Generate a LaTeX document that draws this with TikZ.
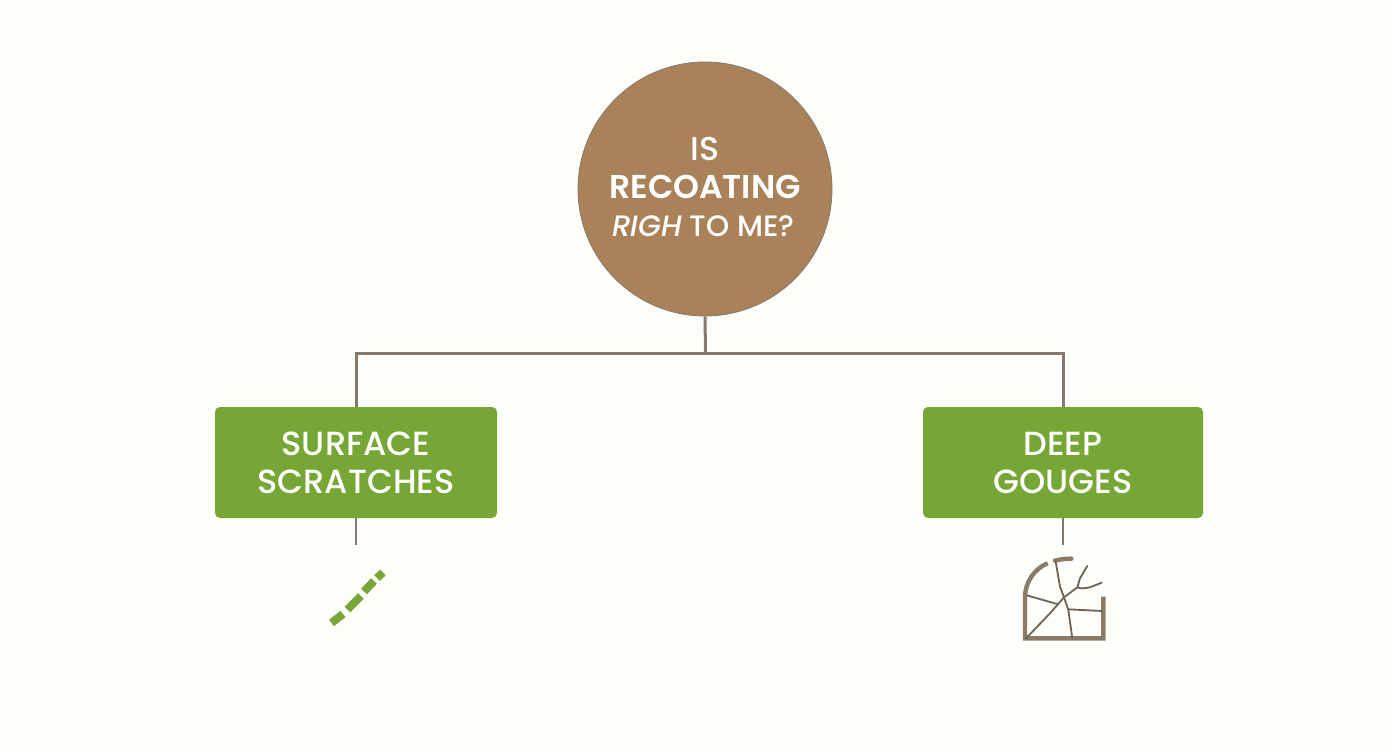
\documentclass[tikz,border=0pt]{standalone}
\usepackage{fontspec}
\setmainfont[BoldFont={Poppins SemiBold},ItalicFont={Poppins Medium Italic}]{Poppins Medium}
\definecolor{bgc}{HTML}{FDFDF9}
\definecolor{tan}{HTML}{A98259}
\definecolor{leaf}{HTML}{76A736}
\definecolor{wire}{HTML}{85796E}
\definecolor{icon}{HTML}{8A7A66}
\definecolor{crack}{HTML}{6E6355}
\tikzset{
  question/.style={circle,fill=tan,draw=wire,line width=0.8pt,minimum size=254pt,inner sep=0pt,text=white},
  choice/.style={rectangle,rounded corners=5pt,fill=leaf,minimum height=111pt,inner sep=0pt,text=white,align=center,font=\fontsize{33.5}{38}\selectfont},
  wirel/.style={draw=wire,line width=3pt},
  stub/.style={draw=wire,line width=2.6pt},
  scr/.style={draw=leaf,line width=8pt},
  ico/.style={draw=icon,line width=4.4pt},
  crk/.style={draw=crack,line width=1.8pt,line cap=round,line join=round},
}
\begin{document}
\begin{tikzpicture}[x=1pt,y=-1pt]
\useasboundingbox (0,0) rectangle (1392,752);
\fill[bgc] (0,0) rectangle (1392,752);
\node[question] (q) at (705,189) {};
\node[text=white,font=\fontsize{33}{34}\selectfont] (t1) at (705,149) {IS};
\node[text=white,font=\fontsize{33}{34}\selectfont\bfseries] (t2) at (705,187) {RECOATING};
\node[text=white,font=\fontsize{29.5}{34}\selectfont] (t3) at (703.5,226) {\textit{RIGH} TO ME?};
\node[choice,minimum width=282pt] (a) at (356,462.5) {SURFACE\\SCRATCHES};
\node[choice,minimum width=280pt] (b) at (1063,462.5) {DEEP\\GOUGES};
\coordinate (j) at (705.5,353);
\coordinate (ae) at (356,545);
\coordinate (be) at (1063,545);
\draw[wirel] (q.south) -- (j);
\draw[wirel] (a.north) |- (j);
\draw[wirel] (b.north) |- (j);
\draw[stub] (a.south) -- (ae);
\draw[stub] (b.south) -- (be);
% scratch icon
\draw[scr] (331.5,623) -- (343,614);
\draw[scr] (347.5,609.5) -- (361,596);
\draw[scr] (364,591.5) -- (374,581);
\draw[scr] (377,578) -- (383,572.5);
% gouge icon
\begin{scope}[shift={(1000,510)},x=0.3333pt,y=-0.3333pt]
\draw[ico] (143,160) .. controls (105,175) and (75,215) .. (75,262) -- (75,385) -- (310,385) -- (310,260);
\draw[ico,line cap=round] (165,152) .. controls (180,148) and (195,146) .. (214,146);
\draw[crk] (167,155) -- (180,230) -- (192,262) -- (205,300) -- (217,385);
\draw[crk] (78,385) -- (150,310) -- (192,262) -- (232,232) -- (240,205) -- (262,168);
\draw[crk] (232,232) .. controls (255,240) and (270,232) .. (305,218);
\draw[crk] (80,256) -- (175,283);
\draw[crk] (205,298) -- (305,303);
\end{scope}
\end{tikzpicture}
\end{document}
